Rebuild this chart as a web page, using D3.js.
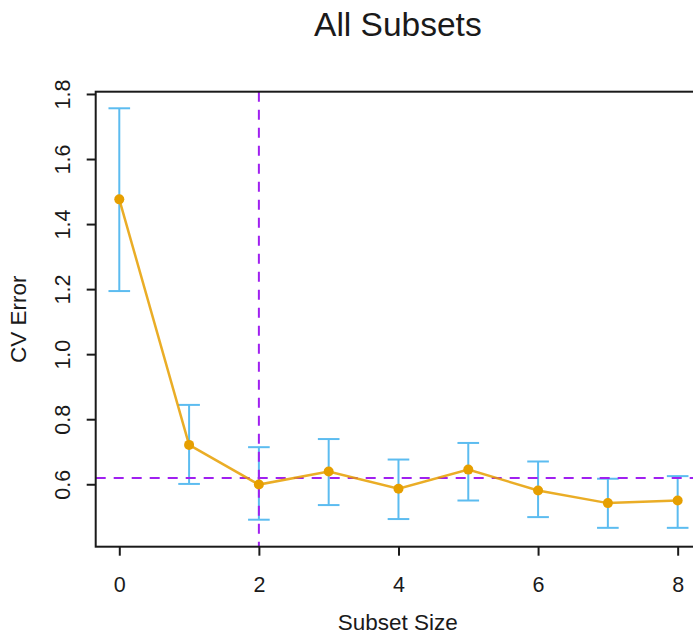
<!DOCTYPE html>
<html>
<head>
<meta charset="utf-8">
<script src="https://cdn.jsdelivr.net/npm/d3@7"></script>
<style>
  html, body { margin: 0; padding: 0; background: #fff; }
  svg { display: block; font-family: "Liberation Sans", Arial, Helvetica, sans-serif; }
</style>
</head>
<body>
<svg id="chart" width="693" height="637"></svg>
<script>
// Cross-validation error by subset size, with one-standard-error bars
const subsetSizes = [0, 1, 2, 3, 4, 5, 6, 7, 8];
const cvError     = [1.476, 0.721, 0.599, 0.639, 0.586, 0.645, 0.581, 0.542, 0.550];
const cvUpper     = [1.756, 0.844, 0.714, 0.739, 0.676, 0.727, 0.670, 0.617, 0.625];
const cvLower     = [1.194, 0.601, 0.491, 0.536, 0.493, 0.550, 0.499, 0.466, 0.466];
const xTicks = [0, 2, 4, 6, 8];
const yTicks = [0.6, 0.8, 1.0, 1.2, 1.4, 1.6, 1.8];
const chosenSize = 2;        // vertical reference line
const oneSeThreshold = 0.619; // horizontal reference line

const svg = d3.select("#chart");

const box = { left: 95.7, right: 700, top: 91.7, bottom: 546.7 };

const x = d3.scaleLinear().domain([-0.338, 8.32]).range([box.left, box.right]);
const y = d3.scaleLinear().domain([0.408, 1.807]).range([box.bottom, box.top]);

const ink = "#1a1a1a";
const blue = "#5CBCF0";
const orange = "#E69F00";
const purple = "#A020F0";
const tickFont = 21.5;
const labelFont = 22.5;

// Title
svg.append("text")
  .attr("x", (box.left + box.right) / 2)
  .attr("y", 36)
  .attr("text-anchor", "middle")
  .attr("font-size", 33.5)
  .attr("fill", ink)
  .text("All Subsets");

// Error bars
const capHalf = 0.155;
const bars = svg.append("g").attr("stroke", blue).attr("stroke-width", 2).attr("fill", "none");
subsetSizes.forEach((s, i) => {
  bars.append("line").attr("x1", x(s)).attr("x2", x(s)).attr("y1", y(cvLower[i])).attr("y2", y(cvUpper[i]));
  bars.append("line").attr("x1", x(s - capHalf)).attr("x2", x(s + capHalf)).attr("y1", y(cvUpper[i])).attr("y2", y(cvUpper[i]));
  bars.append("line").attr("x1", x(s - capHalf)).attr("x2", x(s + capHalf)).attr("y1", y(cvLower[i])).attr("y2", y(cvLower[i]));
});

// Reference lines
svg.append("line")
  .attr("x1", box.left).attr("x2", box.right)
  .attr("y1", y(oneSeThreshold)).attr("y2", y(oneSeThreshold))
  .attr("stroke", purple).attr("stroke-width", 2).attr("stroke-dasharray", "10,8");
svg.append("line")
  .attr("x1", x(chosenSize)).attr("x2", x(chosenSize))
  .attr("y1", box.top).attr("y2", box.bottom)
  .attr("stroke", purple).attr("stroke-width", 2).attr("stroke-dasharray", "10,8");

// CV error line and points
const line = d3.line().x((d, i) => x(subsetSizes[i])).y(d => y(d));
svg.append("path")
  .datum(cvError)
  .attr("d", line)
  .attr("fill", "none")
  .attr("stroke", orange)
  .attr("stroke-opacity", 0.85)
  .attr("stroke-width", 2.5);
svg.append("g").selectAll("circle")
  .data(cvError)
  .join("circle")
  .attr("cx", (d, i) => x(subsetSizes[i]))
  .attr("cy", d => y(d))
  .attr("r", 5)
  .attr("fill", orange);

// Plot box
svg.append("rect")
  .attr("x", box.left).attr("y", box.top)
  .attr("width", box.right - box.left).attr("height", box.bottom - box.top)
  .attr("fill", "none").attr("stroke", ink).attr("stroke-width", 2);

// X axis
const xAxis = svg.append("g")
  .attr("transform", `translate(0,${box.bottom})`)
  .call(d3.axisBottom(x).tickValues(xTicks).tickSize(9).tickSizeOuter(0).tickFormat(d3.format("d")));
xAxis.select(".domain").remove();
xAxis.selectAll(".tick line").attr("stroke", ink).attr("stroke-width", 2);
xAxis.selectAll(".tick text")
  .attr("y", 45).attr("dy", null)
  .attr("font-size", tickFont).attr("fill", ink).attr("font-family", null);

// Y axis
const yAxis = svg.append("g")
  .attr("transform", `translate(${box.left},0)`)
  .call(d3.axisLeft(y).tickValues(yTicks).tickSize(9).tickSizeOuter(0).tickFormat(d3.format(".1f")));
yAxis.select(".domain").remove();
yAxis.selectAll(".tick line").attr("stroke", ink).attr("stroke-width", 2);
yAxis.selectAll(".tick text")
  .attr("transform", "rotate(-90)")
  .attr("x", 0).attr("y", -26).attr("dy", null)
  .attr("text-anchor", "middle")
  .attr("font-size", tickFont).attr("fill", ink).attr("font-family", null);

// Axis titles
svg.append("text")
  .attr("x", (box.left + box.right) / 2)
  .attr("y", 630)
  .attr("text-anchor", "middle")
  .attr("font-size", labelFont)
  .attr("fill", ink)
  .text("Subset Size");
svg.append("text")
  .attr("transform", `translate(26,${(box.top + box.bottom) / 2}) rotate(-90)`)
  .attr("text-anchor", "middle")
  .attr("font-size", labelFont)
  .attr("fill", ink)
  .text("CV Error");
</script>
</body>
</html>
